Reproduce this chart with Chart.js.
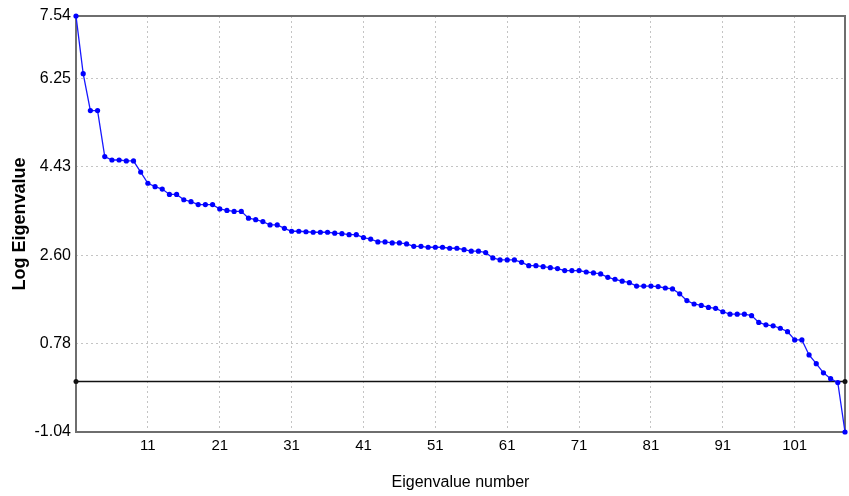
<!DOCTYPE html>
<html>
<head>
<meta charset="utf-8">
<script src="https://cdn.jsdelivr.net/npm/chart.js@4/dist/chart.umd.min.js"></script>
<style>
  html, body { margin: 0; padding: 0; background: #fff; }
  #wrap { width: 849px; height: 496px; }
</style>
</head>
<body>
<div id="wrap"><canvas id="scree"></canvas></div>
<script>
// log eigenvalues (eigenvalue number 1..108)
var logEigen = [
  7.54, 6.35, 5.59, 5.59, 4.64, 4.57, 4.57, 4.55, 4.55, 4.32,
  4.09, 4.02, 3.97, 3.86, 3.86, 3.75, 3.71, 3.65, 3.65, 3.65,
  3.56, 3.53, 3.51, 3.51, 3.37, 3.34, 3.30, 3.23, 3.23, 3.16,
  3.10, 3.10, 3.09, 3.08, 3.08, 3.08, 3.06, 3.05, 3.03, 3.03,
  2.97, 2.94, 2.88, 2.88, 2.86, 2.86, 2.84, 2.79, 2.79, 2.77,
  2.77, 2.77, 2.75, 2.75, 2.72, 2.69, 2.69, 2.66, 2.55, 2.51,
  2.51, 2.51, 2.46, 2.39, 2.39, 2.37, 2.35, 2.33, 2.29, 2.29,
  2.29, 2.26, 2.24, 2.22, 2.15, 2.11, 2.07, 2.04, 1.97, 1.97,
  1.97, 1.96, 1.93, 1.91, 1.81, 1.67, 1.60, 1.57, 1.53, 1.51,
  1.44, 1.39, 1.39, 1.39, 1.36, 1.22, 1.17, 1.15, 1.10, 1.03,
  0.86, 0.86, 0.55, 0.37, 0.18, 0.06, -0.02, -1.04
];

// horizontal reference line at zero
var zeroLineX = [1, 108];
var zeroLineY = [0, 0];

var xTicks = [11, 21, 31, 41, 51, 61, 71, 81, 91, 101];
var yTicks = [-1.04, 0.78, 2.60, 4.43, 6.25, 7.54];

var fontFamily = 'Liberation Sans, Arial, sans-serif';

// dark frame round the plot area
var framePlugin = {
  id: 'frame',
  beforeDatasetsDraw: function (chart) {
    var a = chart.chartArea;
    var ctx = chart.ctx;
    ctx.save();
    ctx.strokeStyle = '#6e6e6e';
    ctx.lineWidth = 2;
    ctx.strokeRect(a.left, a.top, a.right - a.left, a.bottom - a.top);
    ctx.restore();
  }
};

var ctx = document.getElementById('scree').getContext('2d');
var chart = new Chart(ctx, {
  type: 'line',
  data: {
    datasets: [{
      label: 'log eigenvalue',
      data: logEigen.map(function (v, i) { return { x: i + 1, y: v }; }),
      borderColor: '#1818ff',
      backgroundColor: '#0000ff',
      borderWidth: 1.3,
      pointRadius: 2.6,
      pointBorderWidth: 0,
      lineTension: 0,
      clip: false
    }, {
      label: 'zero',
      data: zeroLineX.map(function (x, i) { return { x: x, y: zeroLineY[i] }; }),
      borderColor: '#111',
      backgroundColor: '#111',
      borderWidth: 1.5,
      pointRadius: 2.5,
      pointBorderWidth: 0,
      clip: false
    }]
  },
  options: {
    responsive: true,
    maintainAspectRatio: false,
    animation: false,
    layout: { padding: { top: 16, right: 2, left: 0, bottom: 0 } },
    plugins: {
      legend: { display: false },
      tooltip: { enabled: false }
    },
    scales: {
      x: {
        type: 'linear',
        min: 1,
        max: 108,
        afterBuildTicks: function (s) { s.ticks = xTicks.map(function (v) { return { value: v }; }); },
        afterFit: function (s) { s.height = 64; },
        grid: { color: '#c4c4c4', lineWidth: 1, drawTicks: false },
        border: { display: false, dash: [2, 3] },
        ticks: { font: { family: fontFamily, size: 15 }, color: '#000', padding: 5, maxRotation: 0 },
        title: {
          display: true,
          text: 'Eigenvalue number',
          font: { family: fontFamily, size: 16 },
          color: '#000',
          padding: { top: 0, bottom: 4 }
        }
      },
      y: {
        type: 'linear',
        min: -1.04,
        max: 7.54,
        afterBuildTicks: function (s) { s.ticks = yTicks.map(function (v) { return { value: v }; }); },
        afterFit: function (s) { s.width = 76; },
        grid: { color: '#c4c4c4', lineWidth: 1, drawTicks: false },
        border: { display: false, dash: [2, 3] },
        ticks: {
          font: { family: fontFamily, size: 16 },
          color: '#000',
          padding: 5,
          callback: function (v) { return Number(v).toFixed(2); }
        },
        title: {
          display: true,
          text: 'Log Eigenvalue',
          font: { family: fontFamily, size: 18, weight: 'bold' },
          color: '#000',
          padding: { top: 9, bottom: 0 }
        }
      }
    }
  },
  plugins: [framePlugin]
});
</script>
</body>
</html>
